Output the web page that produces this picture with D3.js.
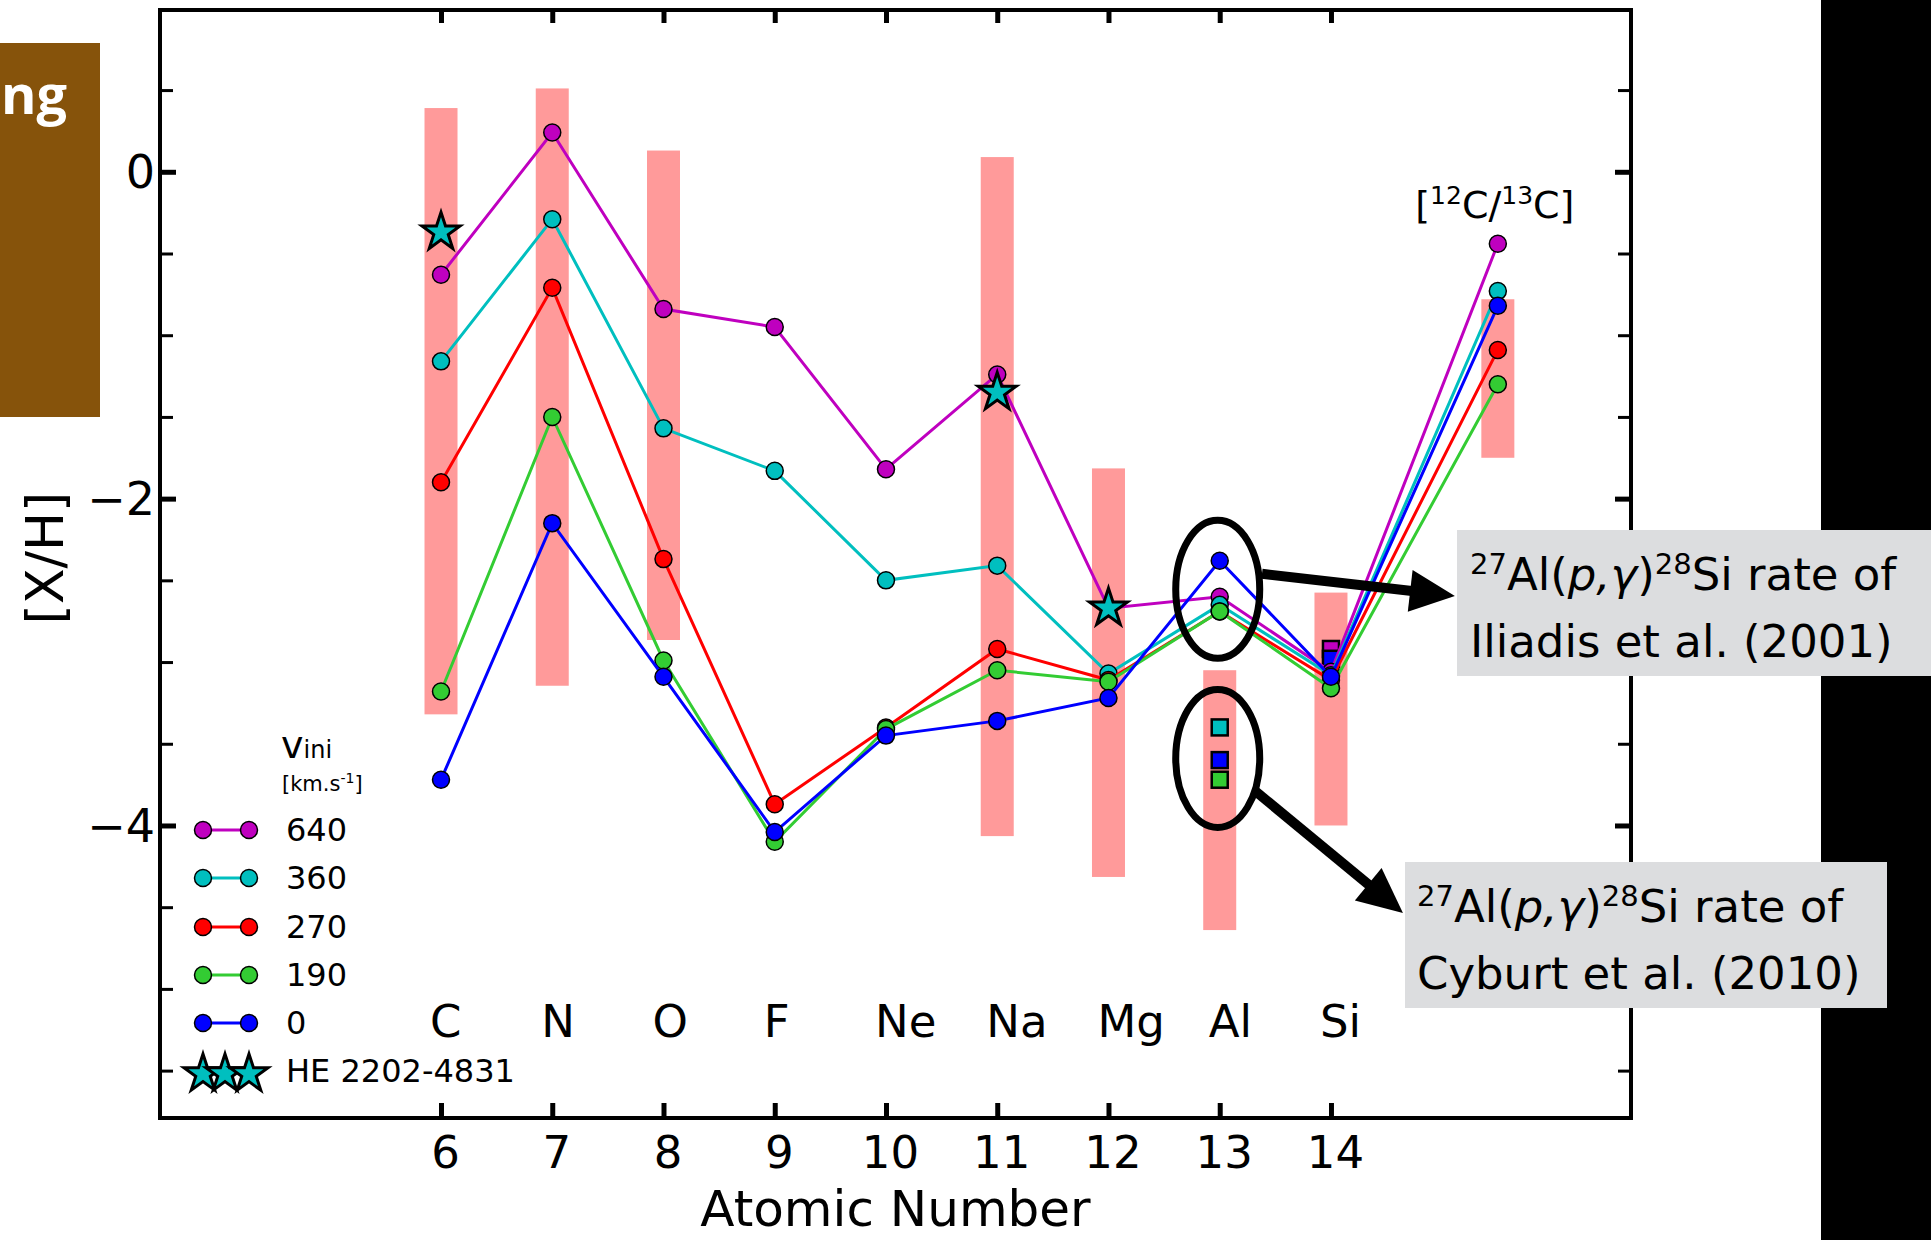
<!DOCTYPE html>
<html>
<head>
<meta charset="utf-8">
<script src="https://cdn.jsdelivr.net/npm/d3@7"></script>
<style>
  body { margin: 0; background: #fff; }
  svg { display: block; }
  svg text { font-family: "DejaVu Sans", Verdana, sans-serif; }
</style>
</head>
<body>
<script>
// ---- data ----
const atomicNumbers = [6, 7, 8, 9, 10, 11, 12, 13, 14, 15.5];
const elementNames = ["C", "N", "O", "F", "Ne", "Na", "Mg", "Al", "Si"];
const xTicks = [6, 7, 8, 9, 10, 11, 12, 13, 14];
const yMajorTicks = [0, -2, -4];
const yMinorTicks = [0.5, -0.5, -1, -1.5, -2.5, -3, -3.5, -4.5, -5, -5.5];

const velocities = ["640", "360", "270", "190", "0"];
const seriesColors = ["#bf00bf", "#00bfbf", "#ff0000", "#33cc33", "#0000ff"];
const xh640 = [-0.63, 0.24, -0.84, -0.95, -1.82, -1.24, -2.67, -2.60, -3.06, -0.44];
const xh360 = [-1.16, -0.29, -1.57, -1.83, -2.50, -2.41, -3.07, -2.65, -3.08, -0.73];
const xh270 = [-1.90, -0.71, -2.37, -3.87, -3.40, -2.92, -3.11, -2.69, -3.11, -1.09];
const xh190 = [-3.18, -1.50, -2.99, -4.10, -3.41, -3.05, -3.12, -2.69, -3.16, -1.30];
const xh0   = [-3.72, -2.15, -3.09, -4.04, -3.45, -3.36, -3.22, -2.38, -3.09, -0.82];
const seriesValues = [xh640, xh360, xh270, xh190, xh0];

// observed ranges (pink bands)
const rangeAtomic = [6, 7, 8, 11, 12, 13, 14, 15.5];
const rangeLow  = [-3.32, -3.145, -2.865, -4.065, -4.315, -4.64, -4.0, -1.75];
const rangeHigh = [0.39, 0.51, 0.13, 0.09, -1.815, -3.05, -2.575, -0.78];

// HE 2202-4831 stars
const starAtomic = [6, 11, 12];
const starValues = [-0.37, -1.35, -2.67];

// Cyburt et al. (2010) rate results (squares)
const cyburtAtomic = [13, 13, 13, 14, 14];
const cyburtValues = [-3.40, -3.60, -3.72, -2.92, -2.98];
const cyburtSeries = ["360", "0", "190", "640", "0"];

// ---- layout ----
const W = 1931, H = 1240;
const plot = {left: 160, right: 1631, top: 10, bottom: 1118};
const FONT = "'DejaVu Sans', Verdana, sans-serif";

const svg = d3.select("body").append("svg")
    .attr("width", W)
    .attr("height", H)
    .attr("font-family", FONT);

const x = d3.scaleLinear().domain([3.474, 16.697]).range([plot.left, plot.right]);
const y = d3.scaleLinear().domain([-5.79, 0.99]).range([plot.bottom, plot.top]);
const colorOf = v => seriesColors[velocities.indexOf(v)];

// slide leftovers: brown box and black strip
svg.append("rect").attr("x", 0).attr("y", 43).attr("width", 100).attr("height", 374)
    .attr("fill", "#86530b");
svg.append("text").attr("x", 1).attr("y", 114)
    .attr("fill", "#fff")
    .style("font-family", "'Open Sans', sans-serif")
    .style("font-weight", 700)
    .style("font-size", "54px")
    .text("ng");
svg.append("rect").attr("x", 1821).attr("y", 0).attr("width", W - 1821).attr("height", H)
    .attr("fill", "#000");

// pink bands
svg.append("g").selectAll("rect")
    .data(rangeAtomic)
    .enter()
    .append("rect")
    .attr("x", d => x(d) - 16.5)
    .attr("width", 33)
    .attr("y", (d, i) => y(rangeHigh[i]))
    .attr("height", (d, i) => y(rangeLow[i]) - y(rangeHigh[i]))
    .attr("fill", "#ff9a9a");

// axes (ticks only, frame drawn separately)
const clean = g => g.attr("font-family", FONT).select(".domain").remove();

svg.append("g")
    .attr("transform", `translate(${plot.left},0)`)
    .call(d3.axisLeft(y).tickValues(yMinorTicks).tickSize(-13).tickFormat(""))
    .call(clean)
    .call(g => g.selectAll("line").attr("stroke-width", 3));

svg.append("g")
    .attr("transform", `translate(${plot.left},0)`)
    .call(d3.axisLeft(y).tickValues(yMajorTicks).tickSize(-16).tickPadding(5).tickFormat(d3.format("d")))
    .call(clean)
    .call(g => g.selectAll("line").attr("stroke-width", 5))
    .call(g => g.selectAll("text")
        .attr("dy", "0.34em")
        .style("font-size", "46px"));

svg.append("g")
    .attr("transform", `translate(${plot.right},0)`)
    .call(d3.axisRight(y).tickValues(yMinorTicks).tickSize(-13).tickFormat(""))
    .call(clean)
    .call(g => g.selectAll("line").attr("stroke-width", 3));

svg.append("g")
    .attr("transform", `translate(${plot.right},0)`)
    .call(d3.axisRight(y).tickValues(yMajorTicks).tickSize(-16).tickFormat(""))
    .call(clean)
    .call(g => g.selectAll("line").attr("stroke-width", 5));

svg.append("g")
    .attr("transform", `translate(0,${plot.top})`)
    .call(d3.axisTop(x).tickValues(xTicks).tickSize(-13).tickFormat(""))
    .call(clean)
    .call(g => g.selectAll("line").attr("stroke-width", 5));

svg.append("g")
    .attr("transform", `translate(0,${plot.bottom})`)
    .call(d3.axisBottom(x).tickValues(xTicks).tickSize(-15).tickFormat(d3.format("d")))
    .call(clean)
    .call(g => g.selectAll("line").attr("stroke-width", 5))
    .call(g => g.selectAll("text")
        .attr("y", 50)
        .attr("dy", 0)
        .attr("dx", 4)
        .style("font-size", "45px"));

// frame
svg.append("rect")
    .attr("x", plot.left).attr("y", plot.top)
    .attr("width", plot.right - plot.left).attr("height", plot.bottom - plot.top)
    .attr("fill", "none")
    .attr("stroke", "#000")
    .attr("stroke-width", 4);

// axis titles
svg.append("text")
    .attr("x", (plot.left + plot.right) / 2)
    .attr("y", 1226)
    .attr("text-anchor", "middle")
    .style("font-size", "50px")
    .text("Atomic Number");

svg.append("text")
    .attr("transform", "translate(44,558) rotate(-90)")
    .attr("text-anchor", "middle")
    .attr("dy", "0.36em")
    .style("font-size", "52px")
    .text("[X/H]");

// element names
svg.append("g").selectAll("text")
    .data(elementNames)
    .enter()
    .append("text")
    .attr("x", (d, i) => x(xTicks[i]) - 11)
    .attr("y", 1037)
    .style("font-size", "45px")
    .text(d => d);

// [12C/13C] label
const ratioLabel = svg.append("text")
    .attr("x", x(15.5) - 3)
    .attr("y", 218)
    .attr("text-anchor", "middle")
    .style("font-size", "38px");
ratioLabel.append("tspan").text("[");
ratioLabel.append("tspan").attr("dy", -14).style("font-size", "25px").text("12");
ratioLabel.append("tspan").attr("dy", 14).text("C/");
ratioLabel.append("tspan").attr("dy", -14).style("font-size", "25px").text("13");
ratioLabel.append("tspan").attr("dy", 14).text("C]");

// Cyburt squares
svg.append("g").selectAll("rect")
    .data(cyburtAtomic)
    .enter()
    .append("rect")
    .attr("x", d => x(d) - 8)
    .attr("y", (d, i) => y(cyburtValues[i]) - 8)
    .attr("width", 16)
    .attr("height", 16)
    .attr("fill", (d, i) => colorOf(cyburtSeries[i]))
    .attr("stroke", "#000")
    .attr("stroke-width", 2.5);

// model series
const line = d3.line().x(d => x(d[0])).y(d => y(d[1]));
velocities.forEach((v, s) => {
    const pts = atomicNumbers.map((z, i) => [z, seriesValues[s][i]]);
    const g = svg.append("g");
    g.append("path")
        .attr("d", line(pts))
        .attr("fill", "none")
        .attr("stroke", seriesColors[s])
        .attr("stroke-width", 3);
    g.selectAll("circle")
        .data(pts)
        .enter()
        .append("circle")
        .attr("cx", d => x(d[0]))
        .attr("cy", d => y(d[1]))
        .attr("r", 8.5)
        .attr("fill", seriesColors[s])
        .attr("stroke", "#000")
        .attr("stroke-width", 1.5);
});

// HE 2202-4831 stars
const star = d3.symbol(d3.symbolStar, 450);
svg.append("g").selectAll("path")
    .data(starAtomic)
    .enter()
    .append("path")
    .attr("d", star)
    .attr("transform", (d, i) => `translate(${x(d)},${y(starValues[i])})`)
    .attr("fill", "#00bfbf")
    .attr("stroke", "#000")
    .attr("stroke-width", 3);

// legend
const legend = svg.append("g");
const vTitle = legend.append("text").attr("x", 281).attr("y", 758);
vTitle.append("tspan").style("font-size", "38px").text("v");
vTitle.append("tspan").style("font-size", "24px").text("ini");
const unit = legend.append("text").attr("x", 282).attr("y", 791).style("font-size", "21px");
unit.append("tspan").text("[km.s");
unit.append("tspan").attr("dy", -8).style("font-size", "14px").text("-1");
unit.append("tspan").attr("dy", 8).text("]");

const legendRows = [830, 878, 927, 975, 1023];
velocities.forEach((v, s) => {
    const ry = legendRows[s];
    legend.append("line")
        .attr("x1", 203).attr("x2", 249).attr("y1", ry).attr("y2", ry)
        .attr("stroke", seriesColors[s]).attr("stroke-width", 3);
    [203, 249].forEach(cx => legend.append("circle")
        .attr("cx", cx).attr("cy", ry).attr("r", 8.5)
        .attr("fill", seriesColors[s]).attr("stroke", "#000").attr("stroke-width", 1.5));
    legend.append("text")
        .attr("x", 286).attr("y", ry + 11)
        .style("font-size", "32px")
        .text(v);
});
[203, 225, 249].forEach(cx => legend.append("path")
    .attr("d", star)
    .attr("transform", `translate(${cx},1074)`)
    .attr("fill", "#00bfbf").attr("stroke", "#000").attr("stroke-width", 3));
legend.append("text")
    .attr("x", 286).attr("y", 1082)
    .style("font-size", "32px")
    .text("HE 2202-4831");

// annotations: ellipses + arrows + boxes
const ellipses = [{z: 13, v: -2.555}, {z: 13, v: -3.59}];
svg.append("g").selectAll("ellipse")
    .data(ellipses)
    .enter()
    .append("ellipse")
    .attr("cx", d => x(d.z) - 2)
    .attr("cy", d => y(d.v))
    .attr("rx", 42)
    .attr("ry", 69)
    .attr("fill", "none")
    .attr("stroke", "#000")
    .attr("stroke-width", 7);

const arrows = [
    {from: [13.38, -2.46], to: [15.114, -2.596]},
    {from: [13.308, -3.783], to: [14.647, -4.535]}
];
arrows.forEach(a => {
    const x0 = x(a.from[0]), y0 = y(a.from[1]);
    const x1 = x(a.to[0]), y1 = y(a.to[1]);
    const len = Math.hypot(x1 - x0, y1 - y0);
    const ux = (x1 - x0) / len, uy = (y1 - y0) / len;
    const headL = 45, headW = 21;
    const bx = x1 - ux * headL, by = y1 - uy * headL;
    svg.append("line")
        .attr("x1", x0).attr("y1", y0)
        .attr("x2", bx + ux * 4).attr("y2", by + uy * 4)
        .attr("stroke", "#000").attr("stroke-width", 10);
    svg.append("polygon")
        .attr("points", [[x1, y1], [bx - uy * headW, by + ux * headW], [bx + uy * headW, by - ux * headW]]
            .map(p => p.join(",")).join(" "))
        .attr("fill", "#000");
});

const boxes = [
    {x: 1457, y: 530, w: 474, h: 146, tx: 1470, base: 590, author: "Iliadis et al. (2001)"},
    {x: 1405, y: 862, w: 482, h: 146, tx: 1417, base: 922, author: "Cyburt et al. (2010)"}
];
boxes.forEach(b => {
    svg.append("rect").attr("x", b.x).attr("y", b.y).attr("width", b.w).attr("height", b.h)
        .attr("fill", "#dcdddf");
    const t = svg.append("text").attr("x", b.tx).attr("y", b.base).style("font-size", "45px");
    t.append("tspan").attr("dy", -16).style("font-size", "29px").text("27");
    t.append("tspan").attr("dy", 16).text("Al(");
    t.append("tspan").style("font-style", "italic").text("p,γ");
    t.append("tspan").text(")");
    t.append("tspan").attr("dy", -16).style("font-size", "29px").text("28");
    t.append("tspan").attr("dy", 16).text("Si rate of");
    svg.append("text").attr("x", b.tx).attr("y", b.base + 67)
        .style("font-size", "45px")
        .text(b.author);
});
</script>
</body>
</html>
